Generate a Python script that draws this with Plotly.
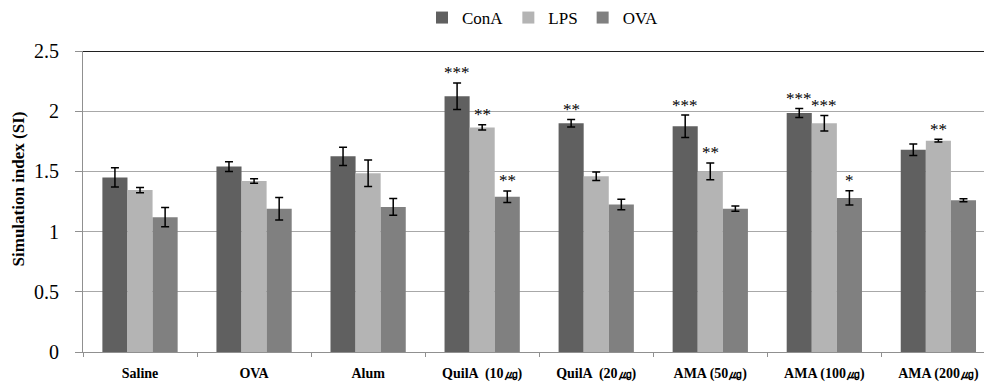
import plotly.graph_objects as go

categories = ["Saline", "OVA", "Alum", "QuilA  (10㎍)", "QuilA  (20㎍)",
              "AMA (50㎍)", "AMA (100㎍)", "AMA (200㎍)"]

series_names = ["ConA", "LPS", "OVA"]

conA = [1.45, 1.54, 1.625, 2.125, 1.90, 1.875, 1.985, 1.68]
conA_err = [0.08, 0.04, 0.075, 0.11, 0.032, 0.093, 0.037, 0.048]
conA_sig = ["", "", "", "***", "**", "***", "***", ""]

lps = [1.345, 1.42, 1.485, 1.865, 1.46, 1.50, 1.90, 1.755]
lps_err = [0.022, 0.018, 0.11, 0.022, 0.036, 0.07, 0.065, 0.011]
lps_sig = ["", "", "", "**", "", "**", "***", "**"]

ova = [1.12, 1.19, 1.205, 1.29, 1.225, 1.19, 1.28, 1.26]
ova_err = [0.08, 0.094, 0.07, 0.048, 0.043, 0.022, 0.06, 0.012]
ova_sig = ["", "", "", "**", "", "", "*", ""]

y_ticks = [0, 0.5, 1, 1.5, 2, 2.5]
y_tick_labels = ["0", "0.5", "1", "1.5", "2", "2.5"]

colors = ["#606060", "#b4b4b4", "#808080"]
values = [conA, lps, ova]
errors = [conA_err, lps_err, ova_err]
sigs = [conA_sig, lps_sig, ova_sig]

SERIF = "'Liberation Serif', 'DejaVu Serif', serif"

fig = go.Figure()
for name, vals, errs, col in zip(series_names, values, errors, colors):
    fig.add_trace(go.Bar(
        name=name, x=categories, y=vals,
        marker=dict(color=col, line=dict(width=0)),
        error_y=dict(type="data", array=errs, visible=True,
                     color="black", thickness=1.5, width=4),
    ))

# significance stars
offsets = [-1, 0, 1]
group_w = 0.66
bar_w = group_w / 3
annotations = []
for si, (vals, errs, sg) in enumerate(zip(values, errors, sigs)):
    for ci, s in enumerate(sg):
        if not s:
            continue
        annotations.append(dict(
            x=ci + offsets[si] * bar_w, y=vals[ci] + errs[ci],
            xref="x", yref="y", text=s, showarrow=False,
            yanchor="middle", yshift=10,
            font=dict(family=SERIF, size=17, color="black"),
        ))

annotations.append(dict(
    x=0, y=0.54, xref="paper", yref="paper", xshift=-65, xanchor="center",
    yanchor="middle",
    text="<b>Simulation index (SI)</b>", textangle=-90, showarrow=False,
    font=dict(family=SERIF, size=17, color="black"),
))

fig.update_layout(
    width=984, height=385,
    margin=dict(l=83, r=0, t=51, b=33),
    paper_bgcolor="white", plot_bgcolor="white",
    barmode="group", bargap=0.34, bargroupgap=0,
    showlegend=True,
    font=dict(family=SERIF),
    legend=dict(orientation="h", x=0.51, xanchor="center", y=1.0, yref="container",
                yanchor="top", font=dict(family=SERIF, size=17, color="black"),
                itemwidth=30, tracegroupgap=0),
    annotations=annotations,
    shapes=[dict(type="line", xref="paper", yref="y", x0=0, x1=1, y0=2.5, y1=2.5,
                 line=dict(color="#202020", width=2))],
)

fig.update_xaxes(
    type="category", range=[-0.5, 7.4],
    tickson="boundaries", ticks="outside", ticklen=4, tickcolor="#909090",
    showline=True, linecolor="#909090", linewidth=1,
    tickfont=dict(family=SERIF, size=14, color="black"),
    tickprefix="<b>", ticksuffix="</b>",
    showgrid=False, zeroline=False, automargin=False,
    ticklabelstandoff=8,
)
fig.update_yaxes(
    range=[0, 2.5], tickvals=y_ticks, ticktext=y_tick_labels,
    ticks="outside", ticklen=7, tickcolor="#909090",
    showline=True, linecolor="#909090", linewidth=1,
    showgrid=True, gridcolor="#a8a8a8", gridwidth=1.2,
    zeroline=False, automargin=False,
    tickfont=dict(family=SERIF, size=20, color="black"),
    ticklabelstandoff=12,
)

fig.write_html("out.html", config={"displayModeBar": False},
               post_script="document.body.style.margin='0';document.body.style.padding='0';")
